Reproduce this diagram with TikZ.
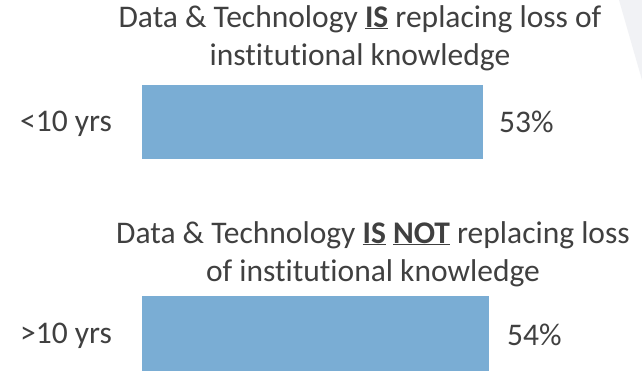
\documentclass[tikz,border=0pt]{standalone}
\usepackage{fontspec}
\setmainfont[Ligatures={NoCommon,NoRare,NoContextual}]{Carlito}
\definecolor{txt}{HTML}{404040}
\definecolor{bar}{HTML}{7AADD4}
\definecolor{bgw}{HTML}{F1F2F5}
\begin{document}
\begin{tikzpicture}[x=1pt,y=-1pt,
  lbl/.style={inner sep=0pt,anchor=base west,text=txt,font=\fontsize{31.5}{36}\selectfont},
  ttl/.style={inner sep=0pt,text=txt,align=center,font=\fontsize{31.5}{38}\selectfont},
  barbox/.style={fill=bar,draw=none}]
\useasboundingbox[fill=white] (0,0) rectangle (642,371);
\fill[bgw] (619,0) -- (642,0) -- (642,80) -- cycle;
\node[ttl,anchor=north] (t1) at (360,5) {Data \& Technology \underline{\textbf{IS}} replacing loss of\\institutional knowledge};
\node[barbox,minimum width=341pt,minimum height=74pt,anchor=north west,inner sep=0pt] (b1) at (142,85) {};
\node[lbl] (l1) at (20,132) {<10 yrs};
\node[lbl] (v1) at (499,133) {53\%};
\node[ttl,anchor=north] (t2) at (373,221) {Data \& Technology \underline{\textbf{IS}} \underline{\textbf{NOT}} replacing loss\\of institutional knowledge};
\node[barbox,minimum width=347pt,minimum height=76pt,anchor=north west,inner sep=0pt] (b2) at (142,296) {};
\node[lbl] (l2) at (20,343) {>10 yrs};
\node[lbl] (v2) at (507,345) {54\%};
\end{tikzpicture}
\end{document}
